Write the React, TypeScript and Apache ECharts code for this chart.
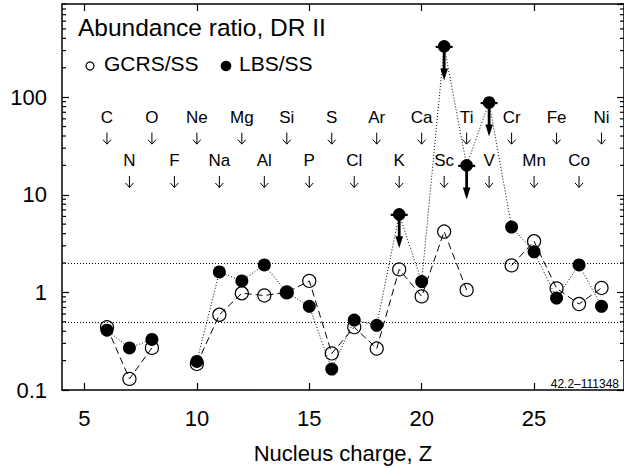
import React, { useEffect, useRef } from 'react';
import * as echarts from 'echarts';

// Nucleus charge Z
const zValues = [6, 7, 8, 9, 10, 11, 12, 13, 14, 15, 16, 17, 18, 19, 20, 21, 22, 23, 24, 25, 26, 27, 28];
// Element symbols for each Z above
const elements = ['C', 'N', 'O', 'F', 'Ne', 'Na', 'Mg', 'Al', 'Si', 'P', 'S', 'Cl', 'Ar', 'K', 'Ca', 'Sc', 'Ti', 'V', 'Cr', 'Mn', 'Fe', 'Co', 'Ni'];
// GCRS/SS abundance ratio (open circles)
const gcrs = [0.44, 0.13, 0.27, null, 0.185, 0.59, 0.98, 0.93, 1.0, 1.31, 0.237, 0.44, 0.266, 1.72, 0.91, 4.2, 1.06, null, 1.89, 3.34, 1.1, 0.76, 1.11];
// LBS/SS abundance ratio (filled circles)
const lbs = [0.41, 0.27, 0.33, null, 0.196, 1.62, 1.31, 1.91, 1.0, 0.72, 0.164, 0.52, 0.46, 6.3, 1.29, 331, 20, 88, 4.67, 2.6, 0.875, 1.91, 0.72];
// Z values where LBS/SS is an upper limit
const upperLimitZ = [19, 21, 22, 23];
// reference lines
const refLines = [2, 0.5];
// tick labels
const xTicks = [5, 10, 15, 20, 25];
const yTickLabels = ['0.1', '1', '10', '100'];
// axis ranges
const xMin = 4;
const xMax = 29;
const yMin = 0.1;
const yMax = 900;
// element label rows (data-space y)
const labelRowEven = 61.7;
const labelRowOdd = 22.2;

const FONT = '"Liberation Sans", Arial, Helvetica, sans-serif';

const minorTickValues: number[] = [];
[0.1, 1, 10, 100].forEach((d) => {
  for (let m = 2; m <= 9; m++) {
    const v = m * d;
    if (v <= yMax + 1e-9) minorTickValues.push(v);
  }
});

export default function App() {
  const ref = useRef<HTMLDivElement>(null);
  useEffect(() => {
    if (!ref.current) return;
    const chart = echarts.init(ref.current, null, { renderer: 'svg' });

    const gcrsData = zValues.map((z, i) => [z, gcrs[i] == null ? '-' : gcrs[i]]);
    const lbsData = zValues.map((z, i) => {
      const v = lbs[i] == null ? '-' : lbs[i];
      if (upperLimitZ.includes(z)) return { value: [z, v], symbol: 'none' };
      return { value: [z, v] };
    });
    const limitData = upperLimitZ.map((z) => [z, lbs[zValues.indexOf(z)]]);
    const labelData = zValues.map((z) => [z, z % 2 === 0 ? labelRowEven : labelRowOdd]);

    const axisLine = { show: true, lineStyle: { color: '#000', width: 1.5 } };

    const option: any = {
      animation: false,
      backgroundColor: '#fff',
      grid: { left: 62, right: -1, top: 4, bottom: 75, containLabel: false },
      xAxis: [
        {
          type: 'value',
          min: xMin,
          max: xMax,
          position: 'bottom',
          axisLine,
          splitLine: { show: false },
          axisTick: { show: true, inside: true, length: 7, customValues: xTicks, lineStyle: { color: '#000', width: 1.2 } },
          axisLabel: { customValues: xTicks, fontSize: 22, color: '#000', fontFamily: FONT, margin: 17 },
          name: 'Nucleus charge, Z',
          nameLocation: 'middle',
          nameGap: 52,
          nameTextStyle: { fontSize: 22, color: '#000', fontFamily: FONT },
        },
        {
          type: 'value',
          min: xMin,
          max: xMax,
          position: 'top',
          axisLine,
          splitLine: { show: false },
          axisTick: { show: true, inside: true, length: 7, customValues: xTicks, lineStyle: { color: '#000', width: 1.2 } },
          axisLabel: { show: false },
        },
      ],
      yAxis: [
        {
          type: 'log',
          logBase: 10,
          min: yMin,
          max: yMax,
          position: 'left',
          axisLine,
          splitLine: { show: false },
          axisTick: { show: true, inside: true, length: 7, lineStyle: { color: '#000', width: 1.2 } },
          axisLabel: {
            fontSize: 22,
            color: '#000',
            fontFamily: FONT,
            margin: 15,
            showMaxLabel: false,
            formatter: (v: number) => {
              const l = Math.log10(v);
              const r = Math.round(l);
              if (Math.abs(l - r) > 1e-6) return '';
              return yTickLabels[r + 1] ?? '';
            },
          },
        },
        {
          type: 'log',
          logBase: 10,
          min: yMin,
          max: yMax,
          position: 'right',
          axisLine,
          splitLine: { show: false },
          axisTick: { show: true, inside: true, length: 7, lineStyle: { color: '#000', width: 1.2 } },
          axisLabel: { show: false },
        },
      ],
      graphic: [
        {
          type: 'text',
          left: 78,
          top: 15,
          style: { text: 'Abundance ratio, DR II', font: `24.5px ${FONT}`, fill: '#000' },
        },
        {
          type: 'circle',
          shape: { cx: 90, cy: 66, r: 4 },
          style: { fill: '#fff', stroke: '#000', lineWidth: 1.2 },
        },
        {
          type: 'text',
          left: 104,
          top: 53,
          style: { text: 'GCRS/SS', font: `21px ${FONT}`, fill: '#000' },
        },
        {
          type: 'circle',
          shape: { cx: 226, cy: 66, r: 5.3 },
          style: { fill: '#000' },
        },
        {
          type: 'text',
          left: 239,
          top: 53,
          style: { text: 'LBS/SS', font: `21px ${FONT}`, fill: '#000' },
        },
        {
          type: 'text',
          right: 5,
          top: 378,
          style: { text: '42.2\u2013111348', font: `12px ${FONT}`, fill: '#000' },
        },
      ],
      series: [
        {
          name: 'minor',
          type: 'custom',
          silent: true,
          clip: false,
          data: minorTickValues.map((v) => [xMin, v]),
          renderItem: (params: any, api: any) => {
            const v = api.value(1);
            const pL = api.coord([xMin, v]);
            const pR = api.coord([xMax, v]);
            return {
              type: 'group',
              children: [
                { type: 'line', shape: { x1: pL[0], y1: pL[1], x2: pL[0] + 4, y2: pL[1] }, style: { stroke: '#000', lineWidth: 1.2 } },
                { type: 'line', shape: { x1: pR[0] - 4, y1: pR[1], x2: pR[0], y2: pR[1] }, style: { stroke: '#000', lineWidth: 1.2 } },
              ],
            };
          },
        },
        {
          name: 'labels',
          type: 'custom',
          silent: true,
          data: labelData,
          renderItem: (params: any, api: any) => {
            const p = api.coord([api.value(0), api.value(1)]);
            const x = p[0];
            const ay = p[1] + 21;
            return {
              type: 'group',
              children: [
                {
                  type: 'text',
                  x,
                  y: p[1],
                  style: { text: elements[params.dataIndex], font: `17px ${FONT}`, fill: '#000', align: 'center', verticalAlign: 'middle' },
                },
                { type: 'line', shape: { x1: x, y1: ay - 6, x2: x, y2: ay + 5.5 }, style: { stroke: '#000', lineWidth: 1 } },
                {
                  type: 'polyline',
                  shape: { points: [[x - 4, ay + 1], [x, ay + 5.5], [x + 4, ay + 1]] },
                  style: { stroke: '#000', lineWidth: 1, fill: null },
                },
              ],
            };
          },
        },
        {
          name: 'GCRS/SS',
          type: 'line',
          data: gcrsData,
          symbol: 'circle',
          symbolSize: 13,
          showAllSymbol: true,
          connectNulls: false,
          itemStyle: { color: 'rgba(0,0,0,0)', borderColor: '#000', borderWidth: 1.2 },
          lineStyle: { color: '#000', width: 1, type: [7, 4] },
          z: 3,
          markLine: {
            silent: true,
            symbol: 'none',
            label: { show: false },
            lineStyle: { color: '#000', width: 1, type: [1, 2] },
            data: refLines.map((v) => ({ yAxis: v })),
          },
        },
        {
          name: 'LBS/SS',
          type: 'line',
          data: lbsData,
          symbol: 'circle',
          symbolSize: 13,
          showAllSymbol: true,
          connectNulls: false,
          itemStyle: { color: '#000', borderColor: '#000', borderWidth: 0 },
          lineStyle: { color: '#000', width: 1, type: [1, 2] },
          z: 2,
        },
        {
          name: 'limits',
          type: 'custom',
          silent: true,
          data: limitData,
          z: 4,
          renderItem: (params: any, api: any) => {
            const p = api.coord([api.value(0), api.value(1)]);
            const x = p[0];
            const y = p[1];
            return {
              type: 'group',
              children: [
                { type: 'circle', shape: { cx: x, cy: y, r: 6.3 }, style: { fill: '#000' } },
                { type: 'line', shape: { x1: x - 8.5, y1: y + 0.5, x2: x + 8.5, y2: y + 0.5 }, style: { stroke: '#000', lineWidth: 2.2 } },
                { type: 'line', shape: { x1: x, y1: y, x2: x, y2: y + 24 }, style: { stroke: '#000', lineWidth: 2.8 } },
                { type: 'polygon', shape: { points: [[x - 3.8, y + 22], [x + 3.8, y + 22], [x, y + 34]] }, style: { fill: '#000' } },
              ],
            };
          },
        },
      ],
    };

    chart.setOption(option);
    return () => chart.dispose();
  }, []);

  return <div ref={ref} style={{ position: 'absolute', left: 0, top: 0, width: 624, height: 469 }} />;
}
